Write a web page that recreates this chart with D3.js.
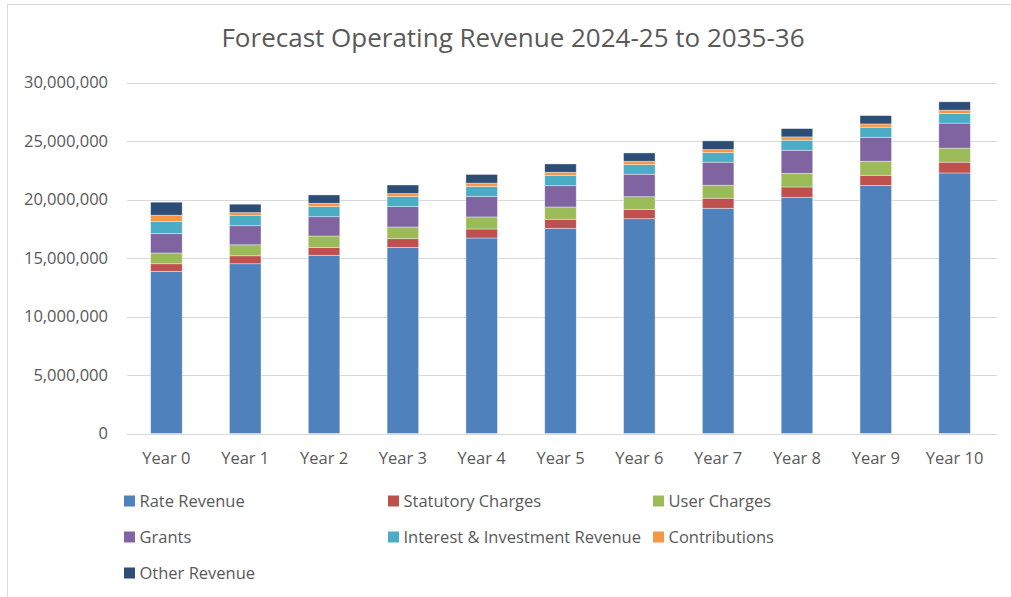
<!DOCTYPE html>
<html>
<head>
<meta charset="utf-8">
<script src="https://cdn.jsdelivr.net/npm/d3@7"></script>
<style>
  body { margin: 0; background: #fff; }
  svg text { font-family: "Open Sans", "Liberation Sans", Arial, sans-serif; fill: #595959; }
</style>
</head>
<body>
<svg id="chart" width="1011" height="597"></svg>
<script>
// chart data
var years = ["Year 0", "Year 1", "Year 2", "Year 3", "Year 4", "Year 5",
             "Year 6", "Year 7", "Year 8", "Year 9", "Year 10"];
var rateRevenue      = [13860000, 14510000, 15230000, 15910000, 16710000, 17540000, 18360000, 19250000, 20190000, 21210000, 22270000];
var statutoryCharges = [650000, 680000, 680000, 740000, 770000, 770000, 800000, 860000, 880000, 860000, 920000];
var userCharges      = [920000, 940000, 970000, 1000000, 1030000, 1050000, 1080000, 1110000, 1170000, 1200000, 1200000];
var grants           = [1650000, 1630000, 1650000, 1740000, 1740000, 1820000, 1920000, 1970000, 1970000, 2050000, 2140000];
var interestRevenue  = [1030000, 860000, 860000, 860000, 860000, 860000, 820000, 820000, 860000, 860000, 820000];
var contributions    = [550000, 260000, 290000, 260000, 290000, 290000, 290000, 260000, 280000, 280000, 290000];
var otherRevenue     = [1110000, 720000, 710000, 730000, 740000, 710000, 710000, 740000, 710000, 710000, 710000];
var seriesNames = ["Rate Revenue", "Statutory Charges", "User Charges", "Grants",
                   "Interest & Investment Revenue", "Contributions", "Other Revenue"];
var seriesColors = ["#4f81bd", "#c0504d", "#9bbb59", "#8064a2", "#4bacc6", "#f79646", "#2c4d75"];
var yTicks = [0, 5000000, 10000000, 15000000, 20000000, 25000000, 30000000];

var seriesValues = [rateRevenue, statutoryCharges, userCharges, grants,
                    interestRevenue, contributions, otherRevenue];

// table for the stack layout
var rows = years.map(function(y, i) {
  var row = { year: y };
  seriesNames.forEach(function(name, s) { row[name] = seriesValues[s][i]; });
  return row;
});

var svg = d3.select("#chart");
var font = "'Open Sans', 'Liberation Sans', Arial, sans-serif";

// outer chart border (only top & left sit inside the frame)
svg.append("rect")
  .attr("x", 7.5).attr("y", 4.5)
  .attr("width", 1020).attr("height", 620)
  .attr("fill", "none")
  .attr("stroke", "#d9d9d9")
  .attr("stroke-width", 1);

var x = d3.scaleBand()
  .domain(years)
  .range([127, 994])
  .paddingInner(0.6)
  .paddingOuter(0.3);

var y = d3.scaleLinear()
  .domain([0, 30000000])
  .range([433.5, 82.5]);

// gridlines
svg.append("g")
  .selectAll("line")
  .data(yTicks)
  .enter()
  .append("line")
  .attr("x1", 127).attr("x2", 997)
  .attr("y1", function(d) { return Math.round(y(d)) + 0.5; })
  .attr("y2", function(d) { return Math.round(y(d)) + 0.5; })
  .attr("stroke", "#d9d9d9")
  .attr("stroke-width", 1);

// y tick labels
var yAxis = d3.axisLeft(y)
  .tickValues(yTicks)
  .tickSize(0)
  .tickPadding(0)
  .tickFormat(d3.format(","));

var gy = svg.append("g")
  .attr("transform", "translate(108,0)")
  .call(yAxis);
gy.select(".domain").remove();
gy.selectAll("text")
  .attr("font-size", 16.5)
  .attr("fill", "#595959")
  .style("font-family", font);

// stacked bars
var stack = d3.stack().keys(seriesNames);
var layers = stack(rows);

svg.append("g")
  .selectAll("g")
  .data(layers)
  .enter()
  .append("g")
  .attr("fill", function(d, i) { return seriesColors[i]; })
  .selectAll("rect")
  .data(function(d) { return d; })
  .enter()
  .append("rect")
  .attr("x", function(d) { return x(d.data.year); })
  .attr("width", x.bandwidth())
  .attr("y", function(d) { return y(d[1]); })
  .attr("height", function(d) { return y(d[0]) - y(d[1]); })
  .attr("stroke", "#ffffff")
  .attr("stroke-opacity", 0.5)
  .attr("stroke-width", 0.75);

// baseline
svg.append("line")
  .attr("x1", 127).attr("x2", 997)
  .attr("y1", 434.5).attr("y2", 434.5)
  .attr("stroke", "#d9d9d9");

// x labels
var xAxis = d3.axisBottom(x).tickSize(0).tickPadding(0);
var gx = svg.append("g")
  .attr("transform", "translate(0,452)")
  .call(xAxis);
gx.select(".domain").remove();
gx.selectAll("text")
  .attr("font-size", 16.5)
  .attr("fill", "#595959")
  .attr("dy", "0.71em")
  .style("font-family", font);

// title
svg.append("text")
  .attr("x", 513)
  .attr("y", 47)
  .attr("text-anchor", "middle")
  .attr("font-size", 26)
  .text("Forecast Operating Revenue 2024-25 to 2035-36");

// legend, three per row
var legendCols = [124, 388, 653];
var legendRows = [501, 537, 573];
var legend = svg.append("g")
  .selectAll("g")
  .data(seriesNames)
  .enter()
  .append("g")
  .attr("transform", function(d, i) {
    return "translate(" + legendCols[i % 3] + "," + legendRows[Math.floor(i / 3)] + ")";
  });

legend.append("rect")
  .attr("x", 0).attr("y", -5.5)
  .attr("width", 11).attr("height", 11)
  .attr("fill", function(d, i) { return seriesColors[i]; });

legend.append("text")
  .attr("x", 15.5)
  .attr("y", 6)
  .attr("font-size", 16.5)
  .text(function(d) { return d; });
</script>
</body>
</html>
